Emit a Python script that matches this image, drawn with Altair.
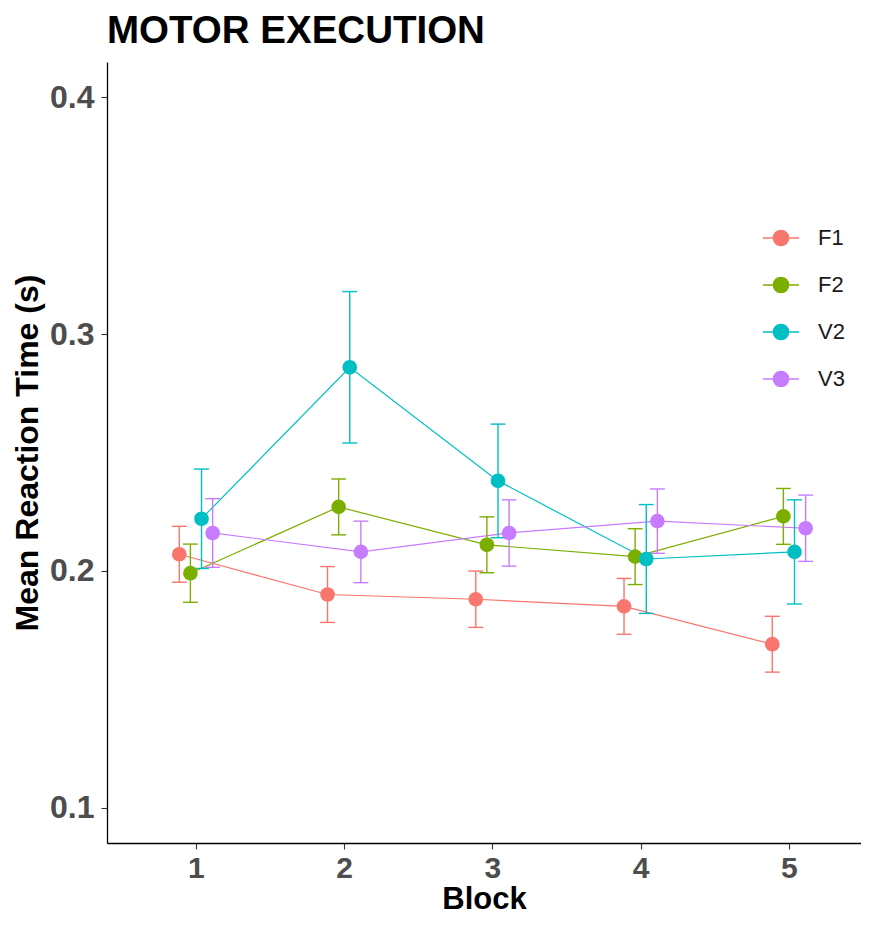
import altair as alt
import pandas as pd

blocks = [1, 2, 3, 4, 5]
groups = ["F1", "F2", "V2", "V3"]
colors = ["#F8766D", "#7CAE00", "#00BFC4", "#C77CFF"]
dodge = [-0.1125, -0.0375, 0.0375, 0.1125]

mean_F1 = [0.207, 0.190, 0.188, 0.185, 0.169]
mean_F2 = [0.199, 0.227, 0.211, 0.206, 0.223]
mean_V2 = [0.222, 0.286, 0.238, 0.205, 0.208]
mean_V3 = [0.216, 0.208, 0.216, 0.221, 0.218]

se_F1 = [0.0118, 0.0118, 0.0119, 0.0118, 0.0118]
se_F2 = [0.0123, 0.0118, 0.0118, 0.0118, 0.0118]
se_V2 = [0.0210, 0.0320, 0.0240, 0.0230, 0.0220]
se_V3 = [0.0145, 0.0130, 0.0140, 0.0136, 0.0140]

means = [mean_F1, mean_F2, mean_V2, mean_V3]
ses = [se_F1, se_F2, se_V2, se_V3]

rows = []
for g, m, s, d in zip(groups, means, ses, dodge):
    for b, mv, sv in zip(blocks, m, s):
        rows.append(dict(group=g, block=b, x=b + d, mean=mv,
                         lo=mv - sv, hi=mv + sv, xl=b + d - 0.05, xr=b + d + 0.05))
df = pd.DataFrame(rows)

FONT = "Liberation Sans"

xscale = alt.Scale(domain=[0.4, 5.486], nice=False, zero=False)
yscale = alt.Scale(domain=[0.085, 0.415], nice=False, zero=False)
xaxis = alt.Axis(values=blocks, format="d", title="Block", labelPadding=4,
                 titlePadding=1, labelFontSize=30, titleFontSize=31)
yaxis = alt.Axis(values=[0.1, 0.2, 0.3, 0.4], format=".1f",
                 title="Mean Reaction Time (s)", labelPadding=7, titlePadding=5,
                 labelFontSize=32, titleFontSize=32)

legend = alt.Legend(
    title=None, orient="none", legendX=655, legendY=157,
    symbolType="M -1 0 L 1 0 M 0.42 0 A 0.42 0.42 0 1 1 -0.42 0 A 0.42 0.42 0 1 1 0.42 0 Z",
    symbolSize=1296, symbolStrokeWidth=1.5, symbolOpacity=1,
    labelFontSize=22, labelFont=FONT, labelColor="#1a1a1a",
    rowPadding=17, labelOffset=18,
)
color = alt.Color("group:N", scale=alt.Scale(domain=groups, range=colors), legend=legend)

base = alt.Chart(df)

line = base.mark_line(strokeWidth=1.2).encode(
    x=alt.X("x:Q", scale=xscale, axis=xaxis),
    y=alt.Y("mean:Q", scale=yscale, axis=yaxis),
    color=color,
)
err = base.mark_rule(strokeWidth=1.4).encode(
    x=alt.X("x:Q", scale=xscale, axis=xaxis),
    y=alt.Y("lo:Q", scale=yscale, axis=yaxis),
    y2="hi:Q",
    color=color,
)
cap_hi = base.mark_rule(strokeWidth=1.4).encode(
    x=alt.X("xl:Q", scale=xscale, axis=xaxis),
    x2="xr:Q",
    y=alt.Y("hi:Q", scale=yscale, axis=yaxis),
    color=color,
)
cap_lo = base.mark_rule(strokeWidth=1.4).encode(
    x=alt.X("xl:Q", scale=xscale, axis=xaxis),
    x2="xr:Q",
    y=alt.Y("lo:Q", scale=yscale, axis=yaxis),
    color=color,
)
points = base.mark_circle(size=215, opacity=1).encode(
    x=alt.X("x:Q", scale=xscale, axis=xaxis),
    y=alt.Y("mean:Q", scale=yscale, axis=yaxis),
    color=color,
)

chart = alt.layer(line, err, cap_hi, cap_lo, points).properties(
    width=754, height=781,
    title=alt.Title("MOTOR EXECUTION", anchor="start", frame="group", fontSize=38.5,
                    font=FONT, fontWeight="bold", color="black", offset=-19,
                    baseline="alphabetic"),
    autosize=alt.AutoSizeParams(type="none"),
    padding={"left": 99, "top": 54, "right": 0, "bottom": 75},
).configure_view(stroke=None).configure_axis(
    grid=False, domainColor="black", domainWidth=1.3, tickColor="#333333",
    tickSize=6, tickWidth=1.1, labelFont=FONT, labelFontWeight="bold",
    labelColor="#4d4d4d", titleFont=FONT,
    titleFontWeight="bold", titleColor="black",
)

chart.save("out.html", embed_options={"renderer": "svg", "actions": False})
